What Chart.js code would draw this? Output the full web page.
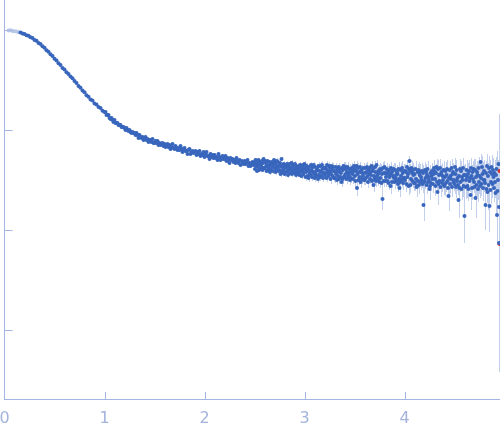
<!DOCTYPE html>
<html><head><meta charset="utf-8">
<script src="https://cdn.jsdelivr.net/npm/chart.js@4"></script>
<style>html,body{margin:0;padding:0;background:#fff;overflow:hidden}#wrap{width:500px;height:437px;position:relative}</style>
</head><body><div id="wrap"><canvas id="c" width="500" height="437"></canvas></div>
<script>
// q (x), log10 intensity (y) and its error in decades
// --- low q, smooth Guinier region ---
const qA = [
0.04,0.06,0.08,0.10,0.12,0.14,0.16,0.18,0.20,0.22,0.24,0.26,0.28,0.30,0.32,0.34,0.36,0.38,0.40,0.42,
0.44,0.46,0.48,0.50,0.52,0.54,0.56,0.58,0.60,0.62,0.64,0.66,0.68,0.70,0.72,0.74,0.76,0.78,0.80,0.82,
0.84,0.86,0.88,0.90,0.92,0.94,0.96,0.98];
const logIA = [
-0.004,-0.003,-0.010,-0.012,-0.015,-0.023,-0.026,-0.036,-0.041,-0.053,-0.058,-0.073,-0.081,-0.099,-0.108,-0.129,-0.140,-0.163,-0.178,-0.203,
-0.218,-0.243,-0.259,-0.288,-0.305,-0.333,-0.350,-0.379,-0.396,-0.423,-0.439,-0.466,-0.482,-0.511,-0.529,-0.559,-0.577,-0.606,-0.623,-0.652,
-0.667,-0.694,-0.706,-0.734,-0.745,-0.771,-0.781,-0.808];
const errA = [
0.004,0.004,0.004,0.004,0.004,0.004,0.003,0.003,0.003,0.003,0.003,0.003,0.003,0.003,0.003,0.003,0.003,0.003,0.003,0.003,
0.003,0.003,0.003,0.003,0.003,0.003,0.003,0.003,0.003,0.003,0.003,0.003,0.003,0.003,0.003,0.003,0.003,0.003,0.003,0.003,
0.003,0.003,0.003,0.003,0.003,0.003,0.003,0.003];
// --- mid q ---
const qB = [
1.00,1.01,1.02,1.03,1.04,1.05,1.06,1.07,1.08,1.09,1.10,1.11,1.12,1.13,1.14,1.15,1.16,1.17,1.18,1.19,
1.20,1.21,1.22,1.23,1.24,1.25,1.26,1.27,1.28,1.29,1.30,1.31,1.32,1.33,1.34,1.35,1.36,1.37,1.38,1.39,
1.40,1.41,1.42,1.43,1.44,1.45,1.46,1.47,1.48,1.49,1.50,1.51,1.52,1.53,1.54,1.55,1.56,1.57,1.58,1.59,
1.60,1.61,1.62,1.63,1.64,1.65,1.66,1.67,1.68,1.69,1.70,1.71,1.72,1.73,1.74,1.75,1.76,1.77,1.78,1.79,
1.80,1.81,1.82,1.83,1.84,1.85,1.86,1.87,1.88,1.89,1.90,1.91,1.92,1.93,1.94,1.95,1.96,1.97,1.98,1.99,
2.00,2.01,2.02,2.03,2.04,2.05,2.06,2.07,2.08,2.09,2.10,2.11,2.12,2.13,2.14,2.15,2.16,2.17,2.18,2.19,
2.20,2.21,2.22,2.23,2.24,2.25,2.26,2.27,2.28,2.29,2.30,2.31,2.32,2.33,2.34,2.35,2.36,2.37,2.38,2.39,
2.40,2.41,2.42,2.43,2.44,2.45,2.46,2.47,2.48,2.49];
const logIB = [
-0.82,-0.82,-0.85,-0.85,-0.85,-0.88,-0.89,-0.88,-0.90,-0.92,-0.90,-0.93,-0.93,-0.93,-0.95,-0.95,-0.95,-0.97,-0.97,-0.97,
-0.98,-1.00,-0.98,-1.00,-1.01,-1.00,-1.02,-1.03,-1.02,-1.03,-1.03,-1.05,-1.03,-1.05,-1.08,-1.05,-1.07,-1.08,-1.07,-1.10,
-1.08,-1.07,-1.10,-1.09,-1.12,-1.10,-1.10,-1.12,-1.09,-1.13,-1.13,-1.11,-1.13,-1.11,-1.15,-1.13,-1.15,-1.14,-1.13,-1.16,
-1.14,-1.17,-1.16,-1.14,-1.17,-1.15,-1.19,-1.17,-1.14,-1.18,-1.19,-1.16,-1.18,-1.20,-1.18,-1.20,-1.16,-1.19,-1.22,-1.19,
-1.18,-1.21,-1.21,-1.24,-1.20,-1.19,-1.24,-1.22,-1.21,-1.23,-1.22,-1.21,-1.25,-1.22,-1.24,-1.21,-1.26,-1.24,-1.25,-1.22,
-1.27,-1.24,-1.22,-1.26,-1.26,-1.29,-1.24,-1.27,-1.25,-1.28,-1.25,-1.28,-1.27,-1.30,-1.24,-1.27,-1.30,-1.28,-1.26,-1.29,
-1.29,-1.26,-1.31,-1.28,-1.30,-1.33,-1.28,-1.30,-1.29,-1.32,-1.30,-1.33,-1.28,-1.31,-1.33,-1.30,-1.35,-1.31,-1.32,-1.34,
-1.31,-1.34,-1.33,-1.30,-1.36,-1.33,-1.36,-1.34,-1.32,-1.35];
const errB = [
0.006,0.006,0.006,0.006,0.006,0.006,0.006,0.006,0.006,0.006,0.006,0.006,0.006,0.006,0.006,0.006,0.006,0.006,0.006,0.006,
0.006,0.006,0.006,0.006,0.006,0.006,0.006,0.006,0.006,0.006,0.006,0.006,0.006,0.006,0.006,0.006,0.006,0.006,0.006,0.006,
0.006,0.006,0.006,0.006,0.006,0.006,0.006,0.006,0.006,0.006,0.010,0.010,0.010,0.010,0.010,0.010,0.010,0.010,0.010,0.010,
0.010,0.010,0.010,0.010,0.010,0.010,0.010,0.010,0.010,0.010,0.010,0.010,0.010,0.010,0.010,0.010,0.010,0.010,0.010,0.010,
0.010,0.010,0.010,0.010,0.010,0.010,0.010,0.010,0.010,0.010,0.010,0.010,0.010,0.010,0.010,0.010,0.010,0.010,0.010,0.010,
0.015,0.015,0.015,0.015,0.015,0.015,0.015,0.015,0.015,0.015,0.015,0.015,0.015,0.015,0.015,0.015,0.015,0.015,0.015,0.015,
0.015,0.015,0.015,0.015,0.015,0.015,0.015,0.015,0.015,0.015,0.015,0.015,0.015,0.015,0.015,0.015,0.015,0.015,0.015,0.015,
0.015,0.015,0.015,0.015,0.015,0.015,0.015,0.015,0.015,0.015];
// --- high q, noisy plateau ---
const qC = [
2.500,2.505,2.510,2.515,2.520,2.525,2.530,2.535,2.540,2.545,2.550,2.555,2.560,2.565,2.570,2.575,2.580,2.585,2.590,2.595,
2.600,2.605,2.610,2.615,2.620,2.625,2.630,2.635,2.640,2.645,2.650,2.655,2.660,2.665,2.670,2.675,2.680,2.685,2.690,2.695,
2.700,2.705,2.710,2.715,2.720,2.725,2.730,2.735,2.740,2.745,2.750,2.755,2.760,2.765,2.770,2.775,2.780,2.785,2.790,2.795,
2.800,2.805,2.810,2.815,2.820,2.825,2.830,2.835,2.840,2.845,2.850,2.855,2.860,2.865,2.870,2.875,2.880,2.885,2.890,2.895,
2.900,2.905,2.910,2.915,2.920,2.925,2.930,2.935,2.940,2.945,2.950,2.955,2.960,2.965,2.970,2.975,2.980,2.985,2.990,2.995,
3.000,3.005,3.010,3.015,3.020,3.025,3.030,3.035,3.040,3.045,3.050,3.055,3.060,3.065,3.070,3.075,3.080,3.085,3.090,3.095,
3.100,3.105,3.110,3.115,3.120,3.125,3.130,3.135,3.140,3.145,3.150,3.155,3.160,3.165,3.170,3.175,3.180,3.185,3.190,3.195,
3.200,3.205,3.210,3.215,3.220,3.225,3.230,3.235,3.240,3.245,3.250,3.255,3.260,3.265,3.270,3.275,3.280,3.285,3.290,3.295,
3.300,3.305,3.310,3.315,3.320,3.325,3.330,3.335,3.340,3.345,3.350,3.355,3.360,3.365,3.370,3.375,3.380,3.385,3.390,3.395,
3.400,3.405,3.410,3.415,3.420,3.425,3.430,3.435,3.440,3.445,3.450,3.455,3.460,3.465,3.470,3.475,3.480,3.485,3.490,3.495,
3.500,3.505,3.510,3.515,3.520,3.525,3.530,3.535,3.540,3.545,3.550,3.555,3.560,3.565,3.570,3.575,3.580,3.585,3.590,3.595,
3.600,3.605,3.610,3.615,3.620,3.625,3.630,3.635,3.640,3.645,3.650,3.655,3.660,3.665,3.670,3.675,3.680,3.685,3.690,3.695,
3.700,3.705,3.710,3.715,3.720,3.725,3.730,3.735,3.740,3.745,3.750,3.755,3.760,3.765,3.770,3.775,3.780,3.785,3.790,3.795,
3.800,3.805,3.810,3.815,3.820,3.825,3.830,3.835,3.840,3.845,3.850,3.855,3.860,3.865,3.870,3.875,3.880,3.885,3.890,3.895,
3.900,3.905,3.910,3.915,3.920,3.925,3.930,3.935,3.940,3.945,3.950,3.955,3.960,3.965,3.970,3.975,3.980,3.985,3.990,3.995,
4.000,4.005,4.010,4.015,4.020,4.025,4.030,4.035,4.040,4.045,4.050,4.055,4.060,4.065,4.070,4.075,4.080,4.085,4.090,4.095,
4.100,4.105,4.110,4.115,4.120,4.125,4.130,4.135,4.140,4.145,4.150,4.155,4.160,4.165,4.170,4.175,4.180,4.185,4.190,4.195,
4.200,4.205,4.210,4.215,4.220,4.225,4.230,4.235,4.240,4.245,4.250,4.255,4.260,4.265,4.270,4.275,4.280,4.285,4.290,4.295,
4.300,4.305,4.310,4.315,4.320,4.325,4.330,4.335,4.340,4.345,4.350,4.355,4.360,4.365,4.370,4.375,4.380,4.385,4.390,4.395,
4.400,4.405,4.410,4.415,4.420,4.425,4.430,4.435,4.440,4.445,4.450,4.455,4.460,4.465,4.470,4.475,4.480,4.485,4.490,4.495,
4.500,4.505,4.510,4.515,4.520,4.525,4.530,4.535,4.540,4.545,4.550,4.555,4.560,4.565,4.570,4.575,4.580,4.585,4.590,4.595,
4.600,4.605,4.610,4.615,4.620,4.625,4.630,4.635,4.640,4.645,4.650,4.655,4.660,4.665,4.670,4.675,4.680,4.685,4.690,4.695,
4.700,4.705,4.710,4.715,4.720,4.725,4.730,4.735,4.740,4.745,4.750,4.755,4.760,4.765,4.770,4.775,4.780,4.785,4.790,4.795,
4.800,4.805,4.810,4.815,4.820,4.825,4.830,4.835,4.840,4.845,4.850,4.855,4.860,4.865,4.870,4.875,4.880,4.885,4.890,4.895,
4.900,4.905,4.910,4.915,4.920,4.925,4.930,4.935,4.940,4.945,4.945];
const logIC = [
-1.33,-1.39,-1.30,-1.36,-1.34,-1.41,-1.31,-1.37,-1.30,-1.40,-1.34,-1.32,-1.39,-1.35,-1.37,-1.31,-1.40,-1.33,-1.29,-1.38,
-1.38,-1.31,-1.37,-1.33,-1.41,-1.35,-1.31,-1.40,-1.36,-1.38,-1.32,-1.42,-1.34,-1.40,-1.35,-1.32,-1.37,-1.41,-1.34,-1.30,
-1.33,-1.38,-1.42,-1.35,-1.31,-1.40,-1.37,-1.32,-1.41,-1.36,-1.40,-1.33,-1.44,-1.36,-1.29,-1.42,-1.37,-1.40,-1.34,-1.43,
-1.44,-1.38,-1.35,-1.42,-1.37,-1.34,-1.41,-1.45,-1.36,-1.39,-1.34,-1.43,-1.38,-1.40,-1.33,-1.44,-1.37,-1.35,-1.41,-1.40,
-1.43,-1.34,-1.38,-1.45,-1.36,-1.42,-1.40,-1.44,-1.37,-1.39,-1.45,-1.35,-1.42,-1.36,-1.46,-1.39,-1.41,-1.35,-1.44,-1.38,
-1.34,-1.39,-1.47,-1.42,-1.36,-1.40,-1.46,-1.38,-1.48,-1.37,-1.43,-1.41,-1.45,-1.35,-1.40,-1.47,-1.37,-1.42,-1.35,-1.44,
-1.48,-1.37,-1.44,-1.41,-1.46,-1.38,-1.40,-1.49,-1.36,-1.45,-1.41,-1.47,-1.36,-1.42,-1.46,-1.35,-1.39,-1.48,-1.43,-1.38,
-1.43,-1.45,-1.38,-1.39,-1.48,-1.35,-1.43,-1.41,-1.46,-1.36,-1.42,-1.38,-1.49,-1.44,-1.36,-1.40,-1.46,-1.37,-1.41,-1.48,
-1.41,-1.48,-1.37,-1.44,-1.42,-1.50,-1.39,-1.46,-1.37,-1.49,-1.42,-1.39,-1.47,-1.43,-1.52,-1.38,-1.49,-1.40,-1.36,-1.47,
-1.46,-1.37,-1.44,-1.39,-1.49,-1.42,-1.37,-1.47,-1.43,-1.45,-1.39,-1.50,-1.40,-1.48,-1.42,-1.38,-1.44,-1.49,-1.41,-1.36,
-1.39,-1.46,-1.51,-1.41,-1.36,-1.58,-1.44,-1.38,-1.50,-1.42,-1.47,-1.37,-1.52,-1.42,-1.40,-1.49,-1.43,-1.46,-1.38,-1.50,
-1.50,-1.43,-1.38,-1.48,-1.42,-1.37,-1.46,-1.52,-1.40,-1.44,-1.38,-1.49,-1.42,-1.45,-1.36,-1.51,-1.41,-1.39,-1.55,-1.46,
-1.49,-1.37,-1.42,-1.51,-1.35,-1.47,-1.45,-1.50,-1.41,-1.43,-1.52,-1.39,-1.48,-1.40,-1.53,-1.44,-1.69,-1.38,-1.51,-1.43,
-1.37,-1.43,-1.51,-1.47,-1.39,-1.44,-1.51,-1.42,-1.53,-1.40,-1.47,-1.45,-1.56,-1.38,-1.43,-1.52,-1.41,-1.46,-1.39,-1.48,
-1.52,-1.40,-1.48,-1.45,-1.51,-1.42,-1.44,-1.54,-1.39,-1.49,-1.58,-1.52,-1.40,-1.46,-1.50,-1.38,-1.43,-1.53,-1.48,-1.41,
-1.48,-1.50,-1.41,-1.42,-1.54,-1.37,-1.47,-1.44,-1.56,-1.39,-1.31,-1.41,-1.55,-1.49,-1.38,-1.43,-1.51,-1.40,-1.45,-1.53,
-1.44,-1.53,-1.39,-1.49,-1.57,-1.56,-1.42,-1.51,-1.40,-1.55,-1.45,-1.42,-1.52,-1.47,-1.50,-1.41,-1.54,-1.43,-1.75,-1.52,
-1.51,-1.40,-1.48,-1.42,-1.55,-1.45,-1.39,-1.52,-1.47,-1.50,-1.59,-1.56,-1.43,-1.53,-1.46,-1.41,-1.49,-1.54,-1.44,-1.38,
-1.41,-1.49,-1.56,-1.43,-1.37,-1.52,-1.62,-1.39,-1.54,-1.45,-1.51,-1.38,-1.57,-1.44,-1.42,-1.53,-1.46,-1.50,-1.40,-1.55,
-1.56,-1.47,-1.41,-1.53,-1.45,-1.39,-1.51,-1.58,-1.66,-1.48,-1.40,-1.54,-1.46,-1.49,-1.38,-1.57,-1.44,-1.42,-1.52,-1.50,
-1.54,-1.37,-1.44,-1.57,-1.40,-1.51,-1.48,-1.55,-1.70,-1.46,-1.58,-1.39,-1.52,-1.41,-1.59,-1.47,-1.50,-1.38,-1.56,-1.45,
-1.86,-1.45,-1.57,-1.50,-1.40,-1.47,-1.56,-1.44,-1.59,-1.41,-1.51,-1.48,-1.65,-1.38,-1.46,-1.58,-1.42,-1.49,-1.39,-1.52,
-1.57,-1.40,-1.68,-1.47,-1.55,-1.42,-1.45,-1.59,-1.38,-1.52,-1.46,-1.56,-1.32,-1.48,-1.54,-1.37,-1.44,-1.58,-1.50,-1.41,
-1.50,-1.53,-1.75,-1.43,-1.59,-1.36,-1.62,-1.46,-1.55,-1.38,-1.76,-1.42,-1.60,-1.52,-1.37,-1.44,-1.54,-1.40,-1.47,-1.58,
-1.43,-1.52,-1.63,-1.45,-1.39,-1.85,-1.61,-1.50,-1.34,-1.77,-2.13];
const errC = [
0.02,0.02,0.02,0.02,0.02,0.02,0.02,0.02,0.02,0.02,0.02,0.02,0.02,0.02,0.02,0.02,0.02,0.02,0.02,0.02,
0.02,0.02,0.03,0.02,0.02,0.02,0.02,0.03,0.02,0.02,0.02,0.03,0.02,0.02,0.02,0.02,0.02,0.03,0.02,0.02,
0.03,0.03,0.03,0.03,0.03,0.03,0.03,0.03,0.03,0.03,0.03,0.03,0.03,0.03,0.02,0.03,0.03,0.03,0.03,0.03,
0.03,0.03,0.03,0.03,0.03,0.03,0.03,0.03,0.03,0.03,0.03,0.03,0.03,0.03,0.03,0.03,0.03,0.03,0.03,0.03,
0.03,0.03,0.03,0.03,0.03,0.03,0.03,0.03,0.03,0.03,0.03,0.03,0.03,0.03,0.03,0.03,0.03,0.03,0.03,0.03,
0.03,0.03,0.04,0.03,0.03,0.03,0.04,0.03,0.04,0.03,0.03,0.03,0.04,0.03,0.03,0.04,0.03,0.03,0.03,0.03,
0.04,0.04,0.04,0.04,0.04,0.04,0.04,0.04,0.04,0.04,0.04,0.04,0.04,0.04,0.04,0.04,0.04,0.04,0.04,0.04,
0.04,0.04,0.04,0.04,0.04,0.04,0.04,0.04,0.04,0.04,0.04,0.04,0.05,0.04,0.04,0.04,0.04,0.04,0.04,0.04,
0.04,0.05,0.04,0.04,0.04,0.05,0.04,0.04,0.04,0.05,0.04,0.04,0.04,0.04,0.05,0.04,0.05,0.04,0.04,0.04,
0.05,0.05,0.05,0.05,0.05,0.05,0.05,0.05,0.05,0.05,0.05,0.05,0.05,0.05,0.05,0.05,0.05,0.05,0.05,0.05,
0.05,0.05,0.06,0.05,0.05,0.08,0.05,0.05,0.05,0.05,0.05,0.05,0.06,0.05,0.05,0.05,0.05,0.05,0.05,0.05,
0.05,0.05,0.05,0.05,0.05,0.05,0.05,0.06,0.05,0.05,0.05,0.05,0.05,0.05,0.05,0.06,0.05,0.05,0.07,0.05,
0.06,0.06,0.06,0.06,0.05,0.06,0.06,0.06,0.06,0.06,0.06,0.06,0.06,0.06,0.06,0.06,0.11,0.06,0.06,0.06,
0.06,0.06,0.06,0.06,0.06,0.06,0.06,0.06,0.07,0.06,0.06,0.06,0.08,0.06,0.06,0.06,0.06,0.06,0.06,0.06,
0.07,0.07,0.07,0.07,0.07,0.07,0.07,0.08,0.07,0.07,0.09,0.07,0.07,0.07,0.07,0.07,0.07,0.07,0.07,0.07,
0.07,0.07,0.07,0.07,0.08,0.07,0.07,0.07,0.09,0.07,0.05,0.07,0.08,0.07,0.07,0.07,0.07,0.07,0.07,0.08,
0.08,0.08,0.08,0.08,0.10,0.09,0.08,0.08,0.08,0.09,0.08,0.08,0.08,0.08,0.08,0.08,0.09,0.08,0.16,0.08,
0.08,0.08,0.08,0.08,0.09,0.08,0.08,0.08,0.08,0.08,0.11,0.09,0.08,0.08,0.08,0.08,0.08,0.09,0.08,0.08,
0.09,0.09,0.10,0.09,0.08,0.09,0.13,0.09,0.10,0.09,0.09,0.09,0.10,0.09,0.09,0.09,0.09,0.09,0.09,0.10,
0.10,0.09,0.09,0.09,0.09,0.09,0.09,0.10,0.15,0.09,0.09,0.10,0.09,0.09,0.09,0.10,0.09,0.09,0.09,0.09,
0.10,0.09,0.10,0.11,0.10,0.10,0.10,0.10,0.18,0.10,0.11,0.10,0.10,0.10,0.11,0.10,0.10,0.10,0.11,0.10,
0.27,0.11,0.12,0.11,0.10,0.11,0.12,0.11,0.12,0.11,0.11,0.11,0.15,0.10,0.11,0.12,0.11,0.11,0.10,0.11,
0.12,0.11,0.20,0.12,0.12,0.11,0.12,0.13,0.11,0.12,0.12,0.12,0.08,0.12,0.12,0.11,0.12,0.13,0.12,0.11,
0.13,0.13,0.25,0.12,0.14,0.12,0.18,0.13,0.14,0.12,0.26,0.12,0.14,0.13,0.12,0.13,0.14,0.12,0.13,0.14,
0.13,0.16,0.20,0.14,0.12,0.30,0.40,0.20,0.14,0.30,1.29];
// rejected points (drawn red)
const qRed = [4.95, 4.95];
const logIRed = [-1.41, -2.14];
// axis ticks (drawn inside; the y axis carries no labels)
const xTickValues = [1, 2, 3, 4];
const yTickValues = [0, -1, -2, -3];

const q = qA.concat(qB, qC);
const logI = logIA.concat(logIB, logIC);
const err = errA.concat(errB, errC);

const AXIS = '#a3b5e0';
const BLUE = '#3966bd';
const LIGHT = '#b6c7e8';
const BAR = '#c3d0ec';

const mainData = q.map((x, i) => ({x: x, y: logI[i]}));
const redData = qRed.map((x, i) => ({x: x, y: logIRed[i]}));

const extras = {
  id: 'extras',
  beforeDatasetsDraw(chart) {
    const {ctx, chartArea: a, scales: {x, y}} = chart;
    ctx.save();
    ctx.beginPath();
    ctx.rect(a.left, a.top, a.right - a.left, a.bottom - a.top);
    ctx.clip();
    ctx.strokeStyle = BAR;
    ctx.lineWidth = 1;
    ctx.beginPath();
    for (let i = 0; i < q.length; i++) {
      const px = Math.round(x.getPixelForValue(q[i])) + 0.5;
      ctx.moveTo(px, y.getPixelForValue(logI[i] + err[i]));
      ctx.lineTo(px, y.getPixelForValue(logI[i] - err[i]));
    }
    ctx.stroke();
    ctx.restore();
  },
  afterDraw(chart) {
    const {ctx, chartArea: a, scales: {x, y}} = chart;
    ctx.save();
    ctx.strokeStyle = AXIS;
    ctx.lineWidth = 1;
    ctx.beginPath();
    xTickValues.forEach(v => {
      const px = Math.round(x.getPixelForValue(v)) + 0.5;
      ctx.moveTo(px, a.bottom);
      ctx.lineTo(px, a.bottom - 7);
    });
    yTickValues.forEach(v => {
      const py = Math.round(y.getPixelForValue(v)) + 0.5;
      ctx.moveTo(a.left, py);
      ctx.lineTo(a.left + 8, py);
    });
    ctx.stroke();
    ctx.restore();
  }
};

new Chart(document.getElementById('c'), {
  type: 'scatter',
  data: {
    datasets: [
      {
        data: mainData,
        pointRadius: 2,
        pointHoverRadius: 2,
        pointBorderWidth: 0,
        borderWidth: 0,
        pointBackgroundColor: ctx => (ctx.raw && ctx.raw.x < 0.15) ? LIGHT : BLUE,
        pointBorderColor: ctx => (ctx.raw && ctx.raw.x < 0.15) ? LIGHT : BLUE
      },
      {
        data: redData,
        pointRadius: 2,
        pointBorderWidth: 0,
        borderWidth: 0,
        pointBackgroundColor: '#e0302b',
        pointBorderColor: '#e0302b'
      }
    ]
  },
  options: {
    responsive: false,
    animation: false,
    events: [],
    layout: {autoPadding: false, padding: 0},
    plugins: {legend: {display: false}, tooltip: {enabled: false}},
    scales: {
      x: {
        type: 'linear',
        min: 0,
        max: 4.955,
        grid: {display: false, drawTicks: false},
        border: {display: true, color: AXIS, width: 1},
        ticks: {
          stepSize: 1,
          includeBounds: false,
          color: '#a3b3db',
          padding: 10,
          maxRotation: 0,
          font: {family: 'DejaVu Sans', size: 16}
        },
        afterFit(s) { s.height = 38; s.paddingLeft = 0; s.paddingRight = 0; }
      },
      y: {
        type: 'linear',
        min: -3.69,
        max: 0.30,
        grid: {display: false, drawTicks: false},
        border: {display: true, color: AXIS, width: 1},
        ticks: {display: false},
        afterFit(s) { s.width = 4.5; }
      }
    }
  },
  plugins: [extras]
});
</script>
</body></html>
